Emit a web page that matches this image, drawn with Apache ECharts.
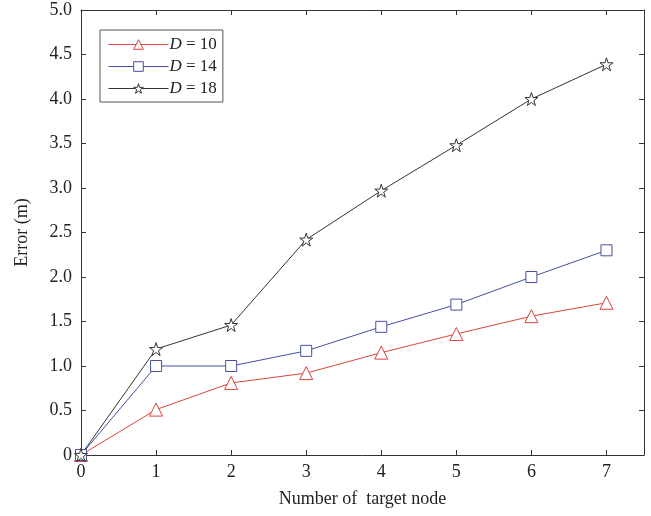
<!DOCTYPE html>
<html>
<head>
<meta charset="utf-8">
<script src="https://cdn.jsdelivr.net/npm/echarts@6/dist/echarts.min.js"></script>
<style>
  body { margin: 0; background: #fff; }
  #main { width: 651px; height: 516px; }
</style>
</head>
<body>
<div id="main"></div>
<script>
// number of target node
var nodes = [0, 1, 2, 3, 4, 5, 6, 7];
// error (m) for each D
var d10 = [0, 0.51, 0.81, 0.92, 1.15, 1.36, 1.56, 1.71];
var d14 = [0, 1.0, 1.0, 1.17, 1.44, 1.69, 2.0, 2.3];
var d18 = [0, 1.19, 1.46, 2.42, 2.97, 3.48, 4.0, 4.39];
var xTicks = [0, 1, 2, 3, 4, 5, 6, 7];
var yTicks = [0, 0.5, 1, 1.5, 2, 2.5, 3, 3.5, 4, 4.5, 5];

var star = 'path://M50,0 L61.8,35.4 L100,35.4 L69.1,57.3 L80.9,92.7 L50,70.8 L19.1,92.7 L30.9,57.3 L0,35.4 L38.2,35.4 Z';
var font = 'Liberation Serif';

function pairs(arr) {
    return arr.map(function (v, i) { return [nodes[i], v]; });
}

function mkSeries(name, data, color, symbol, size) {
    return {
        name: name,
        type: 'line',
        data: pairs(data),
        symbol: symbol,
        symbolSize: size,
        showAllSymbol: true,
        lineStyle: { color: color, width: 1 },
        itemStyle: { color: '#fff', borderColor: color, borderWidth: 1 },
        emphasis: { disabled: true },
        z: 3
    };
}

function tick() {
    return { inside: true, length: 5, lineStyle: { color: '#333' } };
}
function line() {
    return { show: true, onZero: false, lineStyle: { color: '#333', width: 1 } };
}

var chart = echarts.init(document.getElementById('main'));
chart.setOption({
    animation: false,
    backgroundColor: '#fff',
    textStyle: { fontFamily: font },
    grid: { left: 81, right: 7, top: 10, bottom: 61 },
    legend: {
        orient: 'vertical',
        left: 100,
        top: 30,
        padding: [6, 6, 5, 8],
        itemGap: 5,
        itemWidth: 60,
        itemHeight: 12,
        borderColor: '#555',
        borderWidth: 1,
        backgroundColor: '#fff',
        itemStyle: { borderWidth: 1 },
        lineStyle: { width: 1 },
        textStyle: {
            fontFamily: font, fontSize: 17, color: '#222', padding: [0, 0, 0, -4],
            rich: { i: { fontFamily: font, fontSize: 17, fontStyle: 'italic', color: '#222' } }
        },
        formatter: function (n) { return '{i|D} = ' + n.split('= ')[1]; },
        data: ['D = 10', 'D = 14', 'D = 18']
    },
    xAxis: [{
        type: 'value', min: 0, max: 7.5, interval: 1, position: 'bottom',
        name: 'Number of  target node',
        nameLocation: 'middle', nameGap: 35,
        nameTextStyle: { fontFamily: font, fontSize: 18, color: '#222' },
        axisLine: line(),
        axisTick: tick(),
        axisLabel: { customValues: xTicks, fontFamily: font, fontSize: 18, color: '#222', margin: 8 },
        splitLine: { show: false }
    }, {
        type: 'value', min: 0, max: 7.5, interval: 1, position: 'top',
        axisLine: line(),
        axisTick: tick(),
        axisLabel: { show: false },
        splitLine: { show: false }
    }],
    yAxis: [{
        type: 'value', min: 0, max: 5, interval: 0.5, position: 'left',
        name: 'Error (m)',
        nameLocation: 'middle', nameGap: 50,
        nameTextStyle: { fontFamily: font, fontSize: 18, color: '#222' },
        axisLine: line(),
        axisTick: tick(),
        axisLabel: {
            customValues: yTicks, fontFamily: font, fontSize: 18, color: '#222', margin: 9,
            formatter: function (v) { return v === 0 ? '0' : v.toFixed(1); }
        },
        splitLine: { show: false }
    }, {
        type: 'value', min: 0, max: 5, interval: 0.5, position: 'right',
        axisLine: line(),
        axisTick: tick(),
        axisLabel: { show: false },
        splitLine: { show: false }
    }],
    series: [
        mkSeries('D = 10', d10, '#d9443c', 'triangle', 13),
        mkSeries('D = 14', d14, '#4550a6', 'rect', 11),
        mkSeries('D = 18', d18, '#333333', star, 13)
    ]
});
</script>
</body>
</html>
